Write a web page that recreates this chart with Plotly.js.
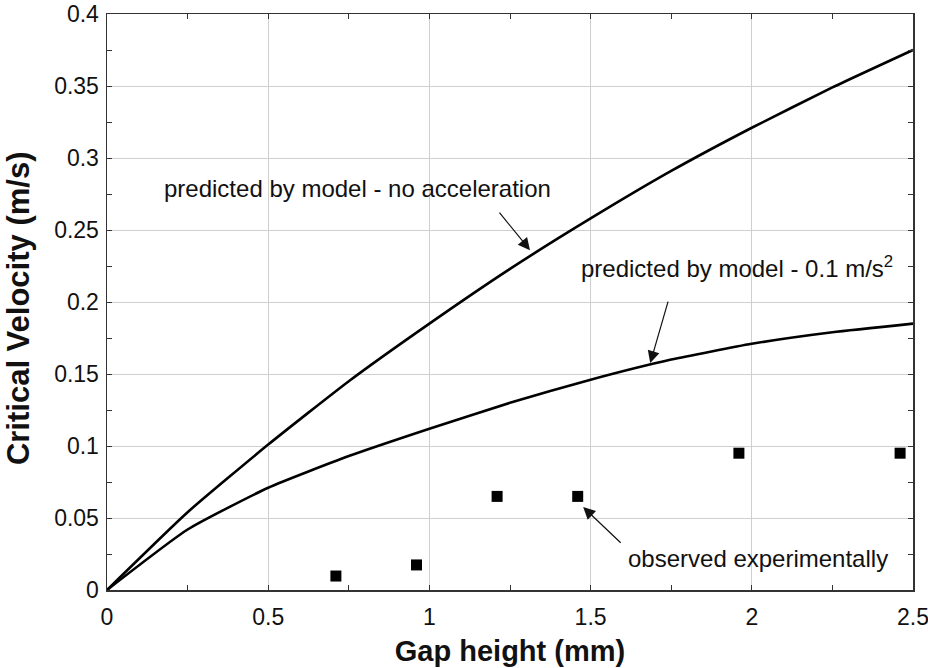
<!DOCTYPE html>
<html>
<head>
<meta charset="utf-8">
<script src="https://cdn.plot.ly/plotly-3.0.1.min.js"></script>
<style>html,body{margin:0;padding:0;background:#fff;}#chart{width:928px;height:668px;}</style>
</head>
<body>
<div id="chart"></div>
<script>
// Model curve: no acceleration
const gapNoAcc = [0, 0.25, 0.5, 0.75, 1.0, 1.25, 1.5, 1.75, 2.0, 2.25, 2.5];
const velNoAcc = [0, 0.054, 0.101, 0.145, 0.185, 0.223, 0.258, 0.291, 0.321, 0.349, 0.375];
// Model curve: 0.1 m/s^2
const gapAcc = [0, 0.25, 0.5, 0.75, 1.0, 1.25, 1.5, 1.75, 2.0, 2.25, 2.5];
const velAcc = [0, 0.042, 0.071, 0.093, 0.112, 0.130, 0.146, 0.160, 0.171, 0.179, 0.185];
// Experimental observations
const gapObs = [0.71, 0.96, 1.21, 1.46, 1.96, 2.46];
const velObs = [0.0097, 0.0174, 0.065, 0.065, 0.095, 0.095];

const xTickVals = [0, 0.5, 1, 1.5, 2, 2.5];
const xTickText = ['0', '0.5', '1', '1.5', '2', '2.5'];
const yTickVals = [0, 0.05, 0.1, 0.15, 0.2, 0.25, 0.3, 0.35, 0.4];
const yTickText = ['0', '0.05', '0.1', '0.15', '0.2', '0.25', '0.3', '0.35', '0.4'];

const xTitle = 'Gap height (mm)';
const yTitle = 'Critical Velocity (m/s)';
const labelNoAcc = 'predicted by model - no acceleration';
const labelAcc = 'predicted by model - 0.1 m/s<sup>2</sup>';
const labelObs = 'observed experimentally';

const FONT = 'Liberation Sans, Arial, sans-serif';
const TXT = '#111';

const traces = [
  {x: gapNoAcc, y: velNoAcc, mode: 'lines', line: {color: '#000', width: 2.6, shape: 'spline', smoothing: 0.5}, hoverinfo: 'skip'},
  {x: gapAcc, y: velAcc, mode: 'lines', line: {color: '#000', width: 2.6, shape: 'spline', smoothing: 0.5}, hoverinfo: 'skip'},
  {x: gapObs, y: velObs, mode: 'markers', marker: {symbol: 'square', size: 11, color: '#000'}, hoverinfo: 'skip'}
];

const arrowStyle = {showarrow: true, arrowhead: 2, arrowsize: 2, arrowwidth: 1.2, arrowcolor: '#111', text: ' ', xref: 'x', yref: 'y', axref: 'pixel', ayref: 'pixel'};

const layout = {
  width: 928, height: 668,
  margin: {l: 107, r: 15, t: 14, b: 78},
  paper_bgcolor: '#fff', plot_bgcolor: '#fff',
  showlegend: false,
  font: {family: FONT, color: TXT, size: 23},
  xaxis: {
    range: [0, 2.5], tickvals: xTickVals, ticktext: xTickText,
    showgrid: true, gridcolor: '#cfcfcf', gridwidth: 1,
    showline: true, linecolor: '#333', linewidth: 1.5, mirror: 'ticks',
    ticks: 'inside', ticklen: 5, tickcolor: '#333',
    minor: {dtick: 0.25, ticks: 'inside', ticklen: 5, tickcolor: '#333', showgrid: false},
    zeroline: false, tickfont: {size: 23, family: FONT, color: TXT},
    ticklabelstandoff: 6, ticklabeloverflow: 'allow',
    title: {text: xTitle, font: {size: 29, family: FONT, weight: 'bold', color: TXT}, standoff: 11}
  },
  yaxis: {
    range: [0, 0.4], tickvals: yTickVals, ticktext: yTickText,
    showgrid: true, gridcolor: '#cfcfcf', gridwidth: 1,
    showline: true, linecolor: '#333', linewidth: 1.5, mirror: 'ticks',
    ticks: 'inside', ticklen: 5, tickcolor: '#333',
    minor: {dtick: 0.025, ticks: 'inside', ticklen: 5, tickcolor: '#333', showgrid: false},
    zeroline: false, tickfont: {size: 23, family: FONT, color: TXT},
    ticklabelstandoff: 2, ticklabeloverflow: 'allow'
  },
  annotations: [
    {x: -0.11, y: 0.49, xref: 'paper', yref: 'paper', xanchor: 'center', yanchor: 'middle', textangle: -90, text: '<b>' + yTitle + '</b>', showarrow: false, font: {size: 31, family: FONT, color: TXT}},
    {x: 0.778, y: 0.279, xref: 'x', yref: 'y', text: labelNoAcc, showarrow: false, font: {size: 24, family: FONT, color: TXT}},
    {x: 1.955, y: 0.224, xref: 'x', yref: 'y', text: labelAcc, showarrow: false, font: {size: 24, family: FONT, color: TXT}},
    {x: 2.02, y: 0.0222, xref: 'x', yref: 'y', text: labelObs, showarrow: false, font: {size: 24, family: FONT, color: TXT}},
    Object.assign({}, arrowStyle, {x: 1.312, y: 0.236, ax: -35, ay: -43}),
    Object.assign({}, arrowStyle, {x: 1.685, y: 0.1576, ax: 22, ay: -76}),
    Object.assign({}, arrowStyle, {x: 1.477, y: 0.0576, ax: 42, ay: 40})
  ]
};

Plotly.newPlot('chart', traces, layout, {staticPlot: true, displayModeBar: false});
</script>
</body>
</html>
